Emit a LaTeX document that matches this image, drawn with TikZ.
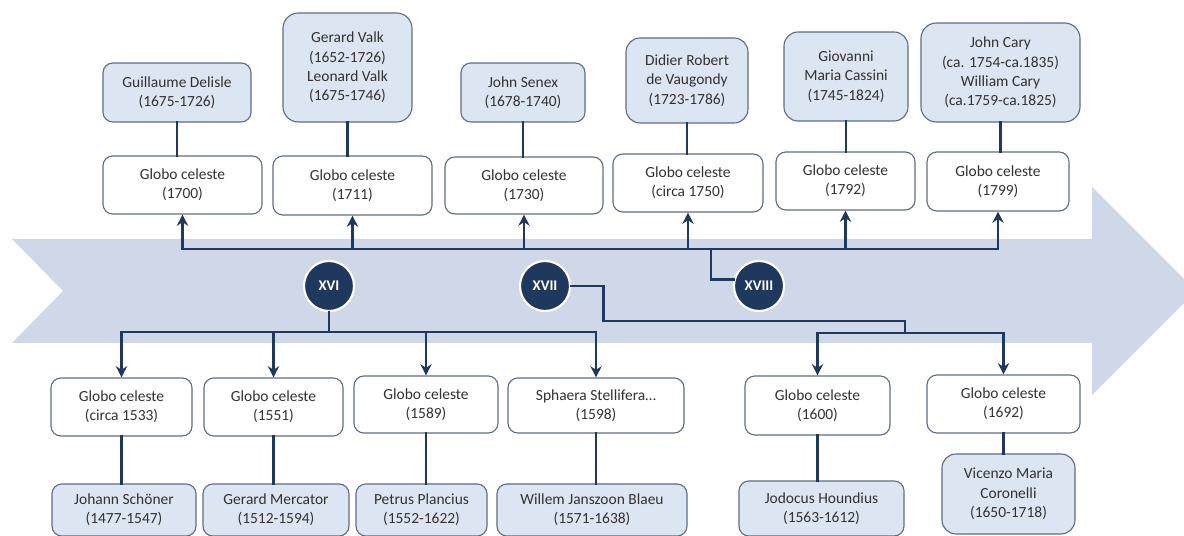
\documentclass[tikz,border=0pt]{standalone}
\usepackage{fontspec}
\setmainfont{Carlito}
\usepackage{tikz}
\usetikzlibrary{arrows.meta, calc}
\definecolor{navy}{RGB}{31,56,93}
\definecolor{band}{RGB}{207,216,232}
\definecolor{makerfill}{RGB}{220,230,242}
\definecolor{edge}{RGB}{95,110,132}
\definecolor{ink}{RGB}{50,50,50}

\begin{document}
\begin{tikzpicture}[x=0.025cm, y=-0.025cm, >={Stealth[length=8pt,width=8pt]}, font=\fontsize{11}{13.8}\selectfont,
  globe/.style={draw=edge, line width=0.8pt, fill=white, text=ink, rounded corners=7pt, align=center, inner sep=1pt},
  maker/.style={globe, fill=makerfill},
  century/.style={circle, draw=white, line width=1.5pt, fill=navy, text=white, font=\fontsize{10.5}{12}\selectfont\bfseries, minimum size=1.25cm, inner sep=0pt},
  link/.style={navy, line width=2.1pt, line cap=rect}]

  \useasboundingbox (0,0) rectangle (1184,536);

  \fill[band] (12,239) -- (1092,239) -- (1092,187) -- (1184,279) -- (1184,303) -- (1092,395) -- (1092,343) -- (12,343) -- (63,291) -- cycle;

  \node[maker, minimum width=3.7cm, minimum height=1.475cm] (dl) at (177,92.5) {Guillaume Delisle\\(1675-1726)};
  \node[maker, rounded corners=11pt, minimum width=3.225cm, minimum height=2.725cm] (vk) at (347.5,67.5) {Gerard Valk\\(1652-1726)\\Leonard Valk\\(1675-1746)};
  \node[maker, minimum width=3.1cm, minimum height=1.475cm] (sx) at (523,92.5) {John Senex\\(1678-1740)};
  \node[maker, rounded corners=10pt, minimum width=3.05cm, minimum height=2.125cm] (vg) at (687,80.5) {Didier Robert\\de Vaugondy\\(1723-1786)};
  \node[maker, rounded corners=10pt, minimum width=3.1cm, minimum height=2.225cm] (cs) at (846,76.5) {Giovanni\\Maria Cassini\\(1745-1824)};
  \node[maker, rounded corners=11pt, minimum width=3.975cm, minimum height=2.475cm] (cy) at (1000.5,72.5) {John Cary\\(ca. 1754-ca.1835)\\William Cary\\(ca.1759-ca.1825)};

  \node[globe, minimum width=3.975cm, minimum height=1.45cm] (g1) at (182.5,185) {Globo celeste\\(1700)};
  \node[globe, minimum width=3.975cm, minimum height=1.475cm] (g2) at (352.5,185.5) {Globo celeste\\(1711)};
  \node[globe, minimum width=3.95cm, minimum height=1.425cm] (g3) at (524,185.5) {Globo celeste\\(1730)};
  \node[globe, minimum width=3.75cm, minimum height=1.45cm] (g4) at (688,183) {Globo celeste\\(circa 1750)};
  \node[globe, minimum width=3.475cm, minimum height=1.45cm] (g5) at (845.5,181) {Globo celeste\\(1792)};
  \node[globe, minimum width=3.55cm, minimum height=1.475cm] (g6) at (998,181.5) {Globo celeste\\(1799)};

  \draw[link] (dl) -- (dl |- g1.north);
  \draw[link] (vk) -- (vk |- g2.north);
  \draw[link] (sx) -- (sx |- g3.north);
  \draw[link] (vg) -- (vg |- g4.north);
  \draw[link] (cs) -- (cs |- g5.north);
  \draw[link] (cy) -- (cy |- g6.north);

  \node[century] (c16) at (329,286) {XVI};
  \node[century] (c17) at (545,286) {XVII};
  \node[century] (c18) at (759,286) {XVIII};

  \node[globe, minimum width=3.525cm, minimum height=1.45cm] (f1) at (121.5,407) {Globo celeste\\(circa 1533)};
  \node[globe, minimum width=3.475cm, minimum height=1.45cm] (f2) at (273.5,407) {Globo celeste\\(1551)};
  \node[globe, minimum width=3.6cm, minimum height=1.425cm] (f3) at (426,404.5) {Globo celeste\\(1589)};
  \node[globe, minimum width=4.4cm, minimum height=1.375cm] (f4) at (596,405.5) {Sphaera Stellifera…\\(1598)};
  \node[globe, minimum width=3.625cm, minimum height=1.475cm] (f5) at (817.5,405.5) {Globo celeste\\(1600)};
  \node[globe, minimum width=3.825cm, minimum height=1.45cm] (f6) at (1003.5,404) {Globo celeste\\(1692)};

  \node[maker, minimum width=3.6cm, minimum height=1.3cm] (p1) at (124,510) {Johann Schöner\\(1477-1547)};
  \node[maker, minimum width=3.65cm, minimum height=1.3cm] (p2) at (276,510) {Gerard Mercator\\(1512-1594)};
  \node[maker, minimum width=3.275cm, minimum height=1.3cm] (p3) at (421.5,510) {Petrus Plancius\\(1552-1622)};
  \node[maker, minimum width=4.75cm, minimum height=1.3cm] (p4) at (592,510) {Willem Janszoon Blaeu\\(1571-1638)};
  \node[maker, minimum width=4.125cm, minimum height=1.375cm] (p5) at (821.5,508.5) {Jodocus Houndius\\(1563-1612)};
  \node[maker, rounded corners=10pt, minimum width=3.325cm, minimum height=2cm] (p6) at (1008.5,494) {Vicenzo Maria\\Coronelli\\(1650-1718)};

  \draw[link] (f1) -- (f1 |- p1.north);
  \draw[link] (f2) -- (f2 |- p2.north);
  \draw[link] (f3) -- (f3 |- p3.north);
  \draw[link] (f4) -- (f4 |- p4.north);
  \draw[link] (f5) -- (f5 |- p5.north);
  \draw[link] (f6) -- (f6 |- p6.north);

  \coordinate (tbus) at (0,249);
  \draw[link] (g1 |- tbus) -- (g6 |- tbus);
  \foreach \g in {g1,g2,g3,g4,g5,g6}
    \draw[link, ->] (\g |- tbus) -- (\g.south);

  \coordinate (j18) at (711,249);
  \draw[link] (j18) |- (c18.165);

  \coordinate (bbus) at (0,332);
  \draw[link] (c16) -- (c16 |- bbus);
  \draw[link] (f1 |- bbus) -- (f4 |- bbus);
  \foreach \f in {f1,f2,f3,f4}
    \draw[link, ->] (\f |- bbus) -- (\f.north);

  \coordinate (k17) at (905,321);
  \coordinate (j17) at (905,333);
  \draw[link] (c17.east) -- ++(32,0) |- (k17) -- (j17);
  \draw[link] (f5 |- j17) -- (f6 |- j17);
  \foreach \f in {f5,f6}
    \draw[link, ->] (\f |- j17) -- (\f.north);

\end{tikzpicture}
\end{document}
